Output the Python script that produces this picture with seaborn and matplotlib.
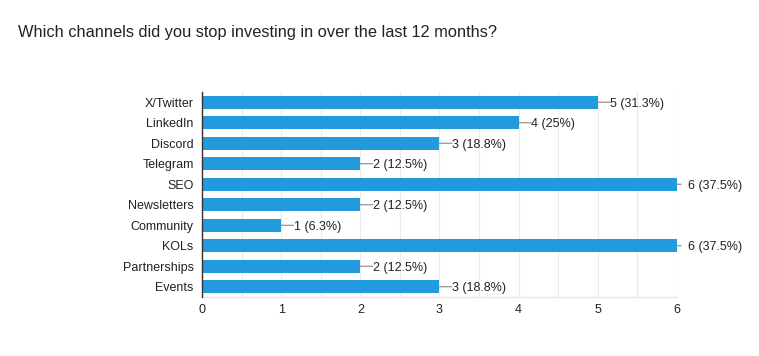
import matplotlib
matplotlib.use("Agg")
import matplotlib.pyplot as plt
import pandas as pd
import seaborn as sns
from matplotlib.ticker import MultipleLocator

TITLE = "Which channels did you stop investing in over the last 12 months?"
CHANNELS = ["X/Twitter", "LinkedIn", "Discord", "Telegram", "SEO",
            "Newsletters", "Community", "KOLs", "Partnerships", "Events"]
COUNTS = [5, 4, 3, 2, 6, 2, 1, 6, 2, 3]
PERCENTS = ["31.3%", "25%", "18.8%", "12.5%", "37.5%",
            "12.5%", "6.3%", "37.5%", "12.5%", "18.8%"]

BAR_COLOR = "#229ade"
TEXT_COLOR = "#222222"

df = pd.DataFrame({"channel": CHANNELS, "count": COUNTS, "pct": PERCENTS})

sns.set_theme(style="white")
plt.rcParams["font.family"] = ["Liberation Sans", "DejaVu Sans"]

fig = plt.figure(figsize=(7.59, 3.56), dpi=100)
ax = fig.add_axes([0.2661, 0.1657, 0.6259, 0.5759])

sns.barplot(data=df, x="count", y="channel", color=BAR_COLOR, saturation=1,
            width=0.64, linewidth=0, ax=ax, zorder=3)

xmax = max(COUNTS)
ax.set_xlim(0, xmax)
ax.set_ylim(len(CHANNELS) - 0.5, -0.5)
ax.xaxis.set_major_locator(MultipleLocator(1))
ax.xaxis.set_minor_locator(MultipleLocator(0.5))
ax.grid(axis="x", which="both", color="#ececec", linewidth=0.9, zorder=0)
ax.set_axisbelow(True)

for side in ("top", "right"):
    ax.spines[side].set_visible(False)
ax.spines["left"].set_color("#333333")
ax.spines["left"].set_linewidth(1.0)
ax.spines["left"].set_zorder(5)
ax.spines["bottom"].set_color("#e6e6e6")
ax.spines["bottom"].set_linewidth(1.0)

ax.tick_params(axis="both", which="both", length=0, labelsize=9,
               colors=TEXT_COLOR, pad=6)
ax.tick_params(axis="x", pad=5)
ax.set_xlabel("")
ax.set_ylabel("")

for i, row in df.iterrows():
    label = f"{row['count']} ({row['pct']})"
    if row["count"] >= xmax:
        line_len, text_off = 3, 8
    else:
        line_len, text_off = 9, 9
    ax.annotate("", xy=(row["count"], i), xytext=(line_len, 0), textcoords="offset points",
                arrowprops=dict(arrowstyle="-", color="#888888", lw=0.8,
                                shrinkA=0, shrinkB=0), annotation_clip=False)
    ax.annotate(label, xy=(row["count"], i), xytext=(text_off, 0), textcoords="offset points",
                va="center_baseline", ha="left", fontsize=9, color=TEXT_COLOR,
                annotation_clip=False)

fig.text(18 / 759, 1 - 32 / 356, TITLE, fontsize=11.8, color=TEXT_COLOR,
         ha="left", va="center")

fig.savefig("out.png", dpi=100)
